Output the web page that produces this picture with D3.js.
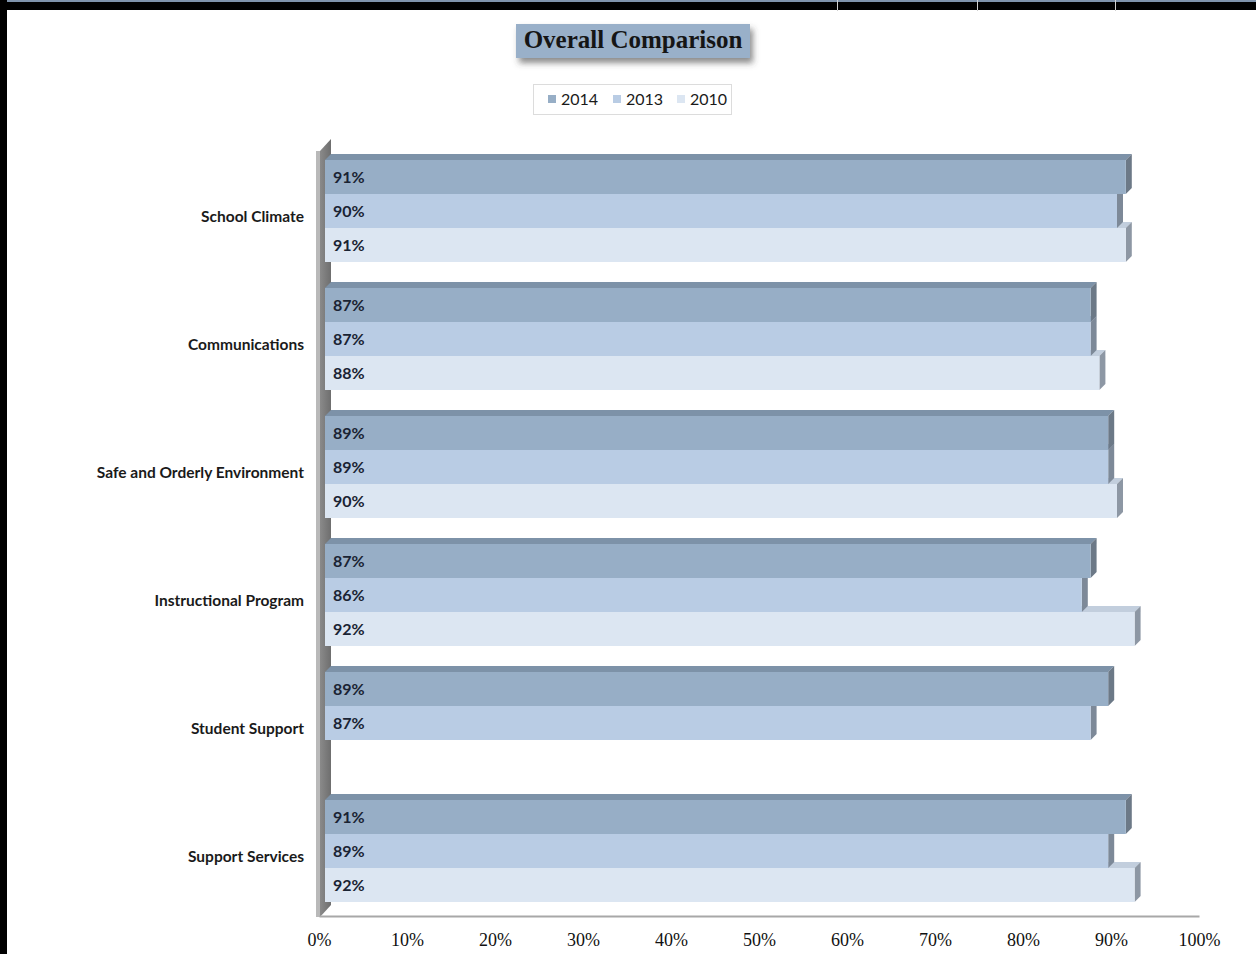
<!DOCTYPE html>
<html>
<head>
<meta charset="utf-8">
<script src="https://cdn.jsdelivr.net/npm/d3@7"></script>
<style>
  html, body { margin: 0; padding: 0; background: #ffffff; }
  svg { display: block; }
</style>
</head>
<body>
<svg id="chart" width="1256" height="954"></svg>
<script>
// ---- data ----
const categories = ["School Climate", "Communications", "Safe and Orderly Environment",
                    "Instructional Program", "Student Support", "Support Services"];
const seriesNames = ["2014", "2013", "2010"];
const values2014 = [0.91, 0.87, 0.89, 0.87, 0.89, 0.91];
const values2013 = [0.90, 0.87, 0.89, 0.86, 0.87, 0.89];
const values2010 = [0.91, 0.88, 0.90, 0.92, null, 0.92];
const xTicks = [0, 0.1, 0.2, 0.3, 0.4, 0.5, 0.6, 0.7, 0.8, 0.9, 1.0];
const titleText = "Overall Comparison";

const seriesValues = [values2014, values2013, values2010];
const frontColors = ["#97aec6", "#b9cce4", "#dce6f2"];
const topColors   = ["#7d92a8", "#9db1c9", "#c2cedd"];
const sideColors  = ["#6c7987", "#7d8998", "#8d97a4"];

const svg = d3.select("#chart");
const W = 1256, H = 954;

// defs
const defs = svg.append("defs");
const sh = defs.append("filter").attr("id", "shadow").attr("x", "-20%").attr("y", "-30%").attr("width", "140%").attr("height", "180%");
sh.append("feDropShadow").attr("dx", 3).attr("dy", 5).attr("stdDeviation", 3)
  .attr("flood-color", "#404040").attr("flood-opacity", 0.6);
const wallGrad = defs.append("linearGradient").attr("id", "wallGrad").attr("x1", 0).attr("x2", 1).attr("y1", 0).attr("y2", 0);
wallGrad.append("stop").attr("offset", "0%").attr("stop-color", "#8a8a8a");
wallGrad.append("stop").attr("offset", "100%").attr("stop-color", "#6e6e6e");

// frame (page border)
svg.append("rect").attr("x", 0).attr("y", 0).attr("width", W).attr("height", 10).attr("fill", "#000");
svg.append("rect").attr("x", 0).attr("y", 0).attr("width", W).attr("height", 2).attr("fill", "#7f93ab");
svg.append("rect").attr("x", 0).attr("y", 0).attr("width", 7).attr("height", H).attr("fill", "#000");
[837, 977, 1115].forEach(x => {
  svg.append("rect").attr("x", x).attr("y", 0).attr("width", 1).attr("height", 11).attr("fill", "#d0d0d0");
});

// scales
const x = d3.scaleLinear().domain([0, 1]).range([319, 1199]);
const yCat = d3.scaleBand().domain(categories).range([152, 920]).padding(0);
const groupH = 102;
const ySub = d3.scaleBand().domain(seriesNames).range([0, groupH]);
const depth = 6;       // bar 3D offset
const shiftX = 6;      // bars front face offset from axis
const groupTop = c => yCat(c) + (yCat.bandwidth() - groupH) / 2 - 5;

// wall (left side, 3D)
const wallFront = 320, wallBack = 331, wallTop = 151, wallBottom = 917, wallDy = 12;
svg.append("rect").attr("x", 316).attr("y", wallTop).attr("width", 4).attr("height", wallBottom - wallTop)
  .attr("fill", "#b9b9b9");
svg.append("polygon")
  .attr("points", [[wallFront, wallBottom], [wallBack, wallBottom - wallDy], [wallBack, wallTop - wallDy], [wallFront, wallTop]].map(p => p.join(",")).join(" "))
  .attr("fill", "url(#wallGrad)");

// x axis (floor line + labels)
const xAxis = d3.axisBottom(x).tickValues(xTicks).tickFormat(d3.format(".0%")).tickSize(0).tickSizeOuter(0).tickPadding(17);
const gx = svg.append("g").attr("transform", "translate(0,916)").call(xAxis);
gx.select(".domain").attr("stroke", "#a8a8a8").attr("stroke-width", 2);
gx.selectAll("text").attr("font-family", "'Liberation Serif', serif").attr("font-size", 18).attr("fill", "#111");

// y axis labels
const yAxis = d3.axisLeft(yCat).tickSize(0).tickPadding(0);
const gy = svg.append("g").attr("transform", "translate(304,1)").call(yAxis);
gy.select(".domain").remove();
gy.selectAll("text").attr("font-family", "Lato, sans-serif").attr("font-weight", "bold")
  .attr("font-size", 15.5).attr("fill", "#1a1a1a");

// bars: draw bottom series first so upper bars overlap lower ones' top faces
const barsG = svg.append("g");
for (let si = seriesNames.length - 1; si >= 0; si--) {
  const sName = seriesNames[si];
  const vals = seriesValues[si];
  categories.forEach((c, ci) => {
    const v = vals[ci];
    if (v == null) return;
    const x0 = x(0) + shiftX, x1 = x(v) + shiftX;
    const y0 = groupTop(c) + ySub(sName), h = ySub.bandwidth();
    const g = barsG.append("g");
    // top face
    g.append("polygon")
      .attr("points", [[x0, y0], [x0 + depth, y0 - depth], [x1 + depth, y0 - depth], [x1, y0]].map(p => p.join(",")).join(" "))
      .attr("fill", topColors[si]);
    // side face
    g.append("polygon")
      .attr("points", [[x1, y0], [x1 + depth, y0 - depth], [x1 + depth, y0 + h - depth], [x1, y0 + h]].map(p => p.join(",")).join(" "))
      .attr("fill", sideColors[si]);
    // front face
    g.append("rect").attr("x", x0).attr("y", y0).attr("width", x1 - x0).attr("height", h)
      .attr("fill", frontColors[si]);
  });
}

// data labels
categories.forEach((c, ci) => {
  seriesNames.forEach((sName, si) => {
    const v = seriesValues[si][ci];
    if (v == null) return;
    svg.append("text")
      .attr("x", x(0) + 14)
      .attr("y", groupTop(c) + ySub(sName) + ySub.bandwidth() / 2)
      .attr("dy", "0.35em")
      .attr("font-family", "Lato, sans-serif").attr("font-weight", "bold").attr("font-size", 16)
      .attr("fill", "#1a2333")
      .text(d3.format(".0%")(v));
  });
});

// title box
const titleG = svg.append("g");
titleG.append("rect").attr("x", 516).attr("y", 24).attr("width", 234).attr("height", 34)
  .attr("fill", "#99b0c9").attr("filter", "url(#shadow)");
titleG.append("text").attr("x", 633).attr("y", 48).attr("text-anchor", "middle")
  .attr("font-family", "'Liberation Serif', serif").attr("font-weight", "bold").attr("font-size", 25)
  .attr("fill", "#151515").text(titleText);

// legend
const legG = svg.append("g");
legG.append("rect").attr("x", 533.5).attr("y", 84.5).attr("width", 198).attr("height", 30)
  .attr("fill", "#fff").attr("stroke", "#dcdcdc");
const legX = [548, 613, 677];
seriesNames.forEach((s, i) => {
  legG.append("rect").attr("x", legX[i]).attr("y", 95).attr("width", 8).attr("height", 8).attr("fill", frontColors[i]);
  legG.append("text").attr("x", legX[i] + 13).attr("y", 99).attr("dy", "0.35em")
    .attr("font-family", "Lato, sans-serif").attr("font-size", 16).attr("fill", "#1a1a1a").text(s);
});
</script>
</body>
</html>
